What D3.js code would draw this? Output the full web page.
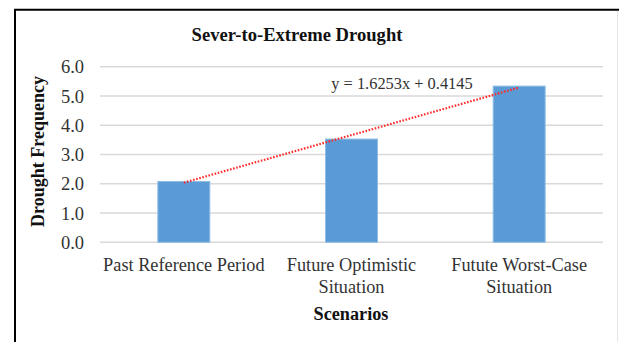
<!DOCTYPE html>
<html><head><meta charset="utf-8">
<script src="https://cdn.jsdelivr.net/npm/d3@7"></script>
<style>body{margin:0;background:#fff}svg{display:block}</style>
</head><body>
<script>
const categories = [["Past Reference Period"], ["Future Optimistic", "Situation"], ["Futute Worst-Case", "Situation"]];
const values = [2.08, 3.53, 5.34];
const yTicks = [0, 1, 2, 3, 4, 5, 6];
const trendSlope = 1.6253, trendIntercept = 0.4145;
const title = "Sever-to-Extreme Drought";
const xTitle = "Scenarios", yTitle = "Drought Frequency";
const eqLabel = "y = 1.6253x + 0.4145";

const W = 619, H = 342;
const svg = d3.select("body").append("svg").attr("width", W).attr("height", H);
const font = "'Liberation Serif','Times New Roman',serif";

// frame
svg.append("path").attr("d", `M15,342 V9.8 H619`).attr("fill", "none").attr("stroke", "#000").attr("stroke-width", 2);
svg.append("line").attr("x1", 617.5).attr("x2", 617.5).attr("y1", 11).attr("y2", 342).attr("stroke", "#e6e6e6").attr("stroke-width", 1);

const x = d3.scaleBand().domain(d3.range(categories.length)).range([100, 603]).paddingInner(0.69).paddingOuter(0.345);
const y = d3.scaleLinear().domain([0, 6]).range([242.3, 66.8]);

// grid
svg.append("g").selectAll("line").data(yTicks).join("line")
  .attr("x1", 100).attr("x2", 603)
  .attr("y1", d => y(d)).attr("y2", d => y(d))
  .attr("stroke", "#d9d9d9").attr("stroke-width", 1.5);

// y tick labels
svg.append("g").selectAll("text").data(yTicks).join("text")
  .attr("x", 84).attr("y", d => y(d)).attr("dy", "0.35em")
  .attr("text-anchor", "end").attr("font-family", font).attr("font-size", 18.5).attr("fill", "#333")
  .text(d => d.toFixed(1));

// bars
svg.append("g").selectAll("rect").data(values).join("rect")
  .attr("x", (d, i) => x(i)).attr("width", x.bandwidth())
  .attr("y", d => y(d)).attr("height", d => y(0) - y(d))
  .attr("fill", "#5b9bd5").attr("stroke", "#8fbde6").attr("stroke-width", 1);

// trendline
const cx = i => x(i) + x.bandwidth() / 2;
const tr = [1, values.length].map(k => [cx(k - 1), y(trendSlope * k + trendIntercept)]);
svg.append("path").attr("d", d3.line()(tr)).attr("fill", "none")
  .attr("stroke", "#ff2a2a").attr("stroke-width", 2.2).attr("stroke-dasharray", "1.6 1.6");

svg.append("text").attr("x", 402).attr("y", 89).attr("text-anchor", "middle")
  .attr("font-family", font).attr("font-size", 16.4).attr("fill", "#333").text(eqLabel);

// x labels
const xl = svg.append("g").selectAll("text").data(categories).join("text")
  .attr("text-anchor", "middle").attr("font-family", font).attr("font-size", 18.3).attr("fill", "#333");
xl.each(function (lines, i) {
  d3.select(this).selectAll("tspan").data(lines).join("tspan")
    .attr("x", cx(i)).attr("y", (d, j) => 271 + j * 21.5).text(d => d);
});

// titles
svg.append("text").attr("x", 297).attr("y", 41).attr("text-anchor", "middle")
  .attr("font-family", font).attr("font-size", 18.6).attr("font-weight", "bold").attr("fill", "#111").text(title);
svg.append("text").attr("x", 351).attr("y", 320).attr("text-anchor", "middle")
  .attr("font-family", font).attr("font-size", 18.2).attr("font-weight", "bold").attr("fill", "#111").text(xTitle);
svg.append("text").attr("transform", "translate(44,151.5) rotate(-90)").attr("text-anchor", "middle")
  .attr("font-family", font).attr("font-size", 18).attr("font-weight", "bold").attr("fill", "#111").text(yTitle);
</script>
</body></html>
